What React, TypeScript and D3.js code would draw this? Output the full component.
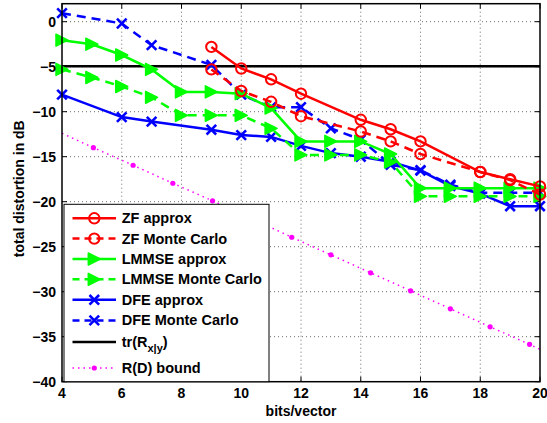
import React from 'react';
import * as d3 from 'd3';

// values
const zfX = [9, 10, 11, 12, 14, 15, 16, 18, 19, 20];
const zfApprox = [-2.8, -5.2, -6.4, -8.0, -10.9, -11.95, -13.3, -16.7, -17.5, -18.3];
const zfMC = [-5.3, -7.7, -8.9, -10.5, -12.2, -13.3, -14.7, -16.7, -17.6, -19.2];

const lmmseX = [4, 5, 6, 7, 8, 9, 10, 11, 12, 13, 14, 15, 16, 17, 18, 19, 20];
const lmmseApprox = [-2.05, -2.5, -3.7, -5.3, -7.8, -7.8, -8.0, -9.6, -13.3, -13.3, -13.3, -14.7, -18.5, -18.5, -18.5, -18.5, -18.5];
const lmmseMC = [-5.3, -6.2, -7.2, -8.4, -10.4, -10.4, -10.4, -11.85, -14.8, -14.8, -14.8, -15.6, -19.4, -19.4, -19.4, -19.4, -19.4];

const dfeX = [4, 6, 7, 9, 10, 11, 12, 13, 14, 15, 16, 17, 18, 19, 20];
const dfeApprox = [-8.1, -10.6, -11.1, -12.0, -12.6, -12.8, -13.8, -14.6, -15.0, -15.55, -16.55, -18.25, -19.1, -20.5, -20.5];
const dfeMC = [0.95, -0.2, -2.6, -4.8, -8.1, -9.5, -9.5, -11.85, -13.1, -15.9, -16.5, -18.1, -19.0, -19.0, -19.0];

// R(D) bound: line ends at the axes, markers in between
const rdX = [4, 5.05, 6.38, 7.71, 9.04, 10.37, 11.69, 13.0, 14.33, 15.67, 17.0, 18.33, 19.65, 20];
const rdY = [-12.4, -14.0, -15.95, -17.95, -19.9, -21.9, -23.95, -25.9, -27.9, -29.9, -31.9, -33.9, -35.85, -36.4];

const trValue = -4.95;

const xTicks = [4, 6, 8, 10, 12, 14, 16, 18, 20];
const yTicks = [0, -5, -10, -15, -20, -25, -30, -35, -40];

const W = 547;
const H = 423;
const left = 62;
const right = 540;
const top = 3.7;
const bottom = 381.7;

const x = d3.scaleLinear().domain([4, 20]).range([left, right]);
const y = d3.scaleLinear().domain([-40, 2]).range([bottom, top]);

const RED = '#ff0000';
const GREEN = '#00ff00';
const BLUE = '#0000ff';
const MAGENTA = '#ff00ff';
const DASH = '9,6';
const FONT = 'Liberation Sans, Arial, sans-serif';

type Marker = 'o' | '>' | 'x' | '.';

const MarkerShape = ({ type, cx, cy, color }: { type: Marker; cx: number; cy: number; color: string }) => {
  if (type === 'o') {
    return <circle cx={cx} cy={cy} r={5.2} fill="none" stroke={color} strokeWidth={2} />;
  }
  if (type === '>') {
    const s = 6;
    return (
      <path
        d={`M${cx + s},${cy} L${cx - s},${cy - s} L${cx - s},${cy + s} Z`}
        fill={color}
        stroke={color}
        strokeWidth={1.5}
        strokeLinejoin="round"
      />
    );
  }
  if (type === 'x') {
    const s = 4.8;
    return (
      <path
        d={`M${cx - s},${cy - s} L${cx + s},${cy + s} M${cx - s},${cy + s} L${cx + s},${cy - s}`}
        stroke={color}
        strokeWidth={2.6}
      />
    );
  }
  return <circle cx={cx} cy={cy} r={2.6} fill={color} />;
};

const line = d3
  .line<[number, number]>()
  .x((d) => x(d[0]))
  .y((d) => y(d[1]));

const Series = ({
  xs,
  ys,
  color,
  dash,
  marker,
  width = 2.5,
  skipEnds = false,
}: {
  xs: number[];
  ys: number[];
  color: string;
  dash?: string;
  marker: Marker;
  width?: number;
  skipEnds?: boolean;
}) => {
  const pts = xs.map((v, i) => [v, ys[i]] as [number, number]);
  return (
    <g>
      <path d={line(pts) || ''} fill="none" stroke={color} strokeWidth={width} strokeDasharray={dash} />
      {pts.map((p, i) =>
        skipEnds && (i === 0 || i === pts.length - 1) ? null : (
          <MarkerShape key={i} type={marker} cx={x(p[0])} cy={y(p[1])} color={color} />
        )
      )}
    </g>
  );
};

const legendItems: { label: React.ReactNode; color: string; dash?: string; marker?: Marker; width?: number }[] = [
  { label: 'ZF approx', color: RED, marker: 'o' },
  { label: 'ZF Monte Carlo', color: RED, dash: '7,5', marker: 'o' },
  { label: 'LMMSE approx', color: GREEN, marker: '>' },
  { label: 'LMMSE Monte Carlo', color: GREEN, dash: '7,5', marker: '>' },
  { label: 'DFE approx', color: BLUE, marker: 'x' },
  { label: 'DFE Monte Carlo', color: BLUE, dash: '7,5', marker: 'x' },
  {
    label: (
      <>
        tr(R<tspan fontSize={11} dy={5}>x|y</tspan>
        <tspan dy={-5}>)</tspan>
      </>
    ),
    color: '#000',
  },
  { label: 'R(D) bound', color: MAGENTA, dash: '1.5,4', marker: '.', width: 1.5 },
];
const legendRowY = [218.3, 238.6, 259, 279.3, 299.8, 320.4, 342, 368];

const App = () => {
  return (
    <svg
      width={W}
      height={H}
      style={{ position: 'absolute', left: 0, top: 0, background: '#fff' }}
      fontFamily={FONT}
      fontWeight="bold"
    >
      <rect x={0} y={0} width={W} height={H} fill="#fff" />
      {/* grid */}
      <g stroke="#444" strokeWidth={0.8} strokeDasharray="1,3">
        {xTicks.slice(1, -1).map((t) => (
          <line key={'gx' + t} x1={x(t)} x2={x(t)} y1={top} y2={bottom} />
        ))}
        {yTicks.slice(0, -1).map((t) => (
          <line key={'gy' + t} x1={left} x2={right} y1={y(t)} y2={y(t)} />
        ))}
      </g>
      {/* ticks */}
      <g stroke="#000" strokeWidth={1}>
        {xTicks.map((t) => (
          <g key={'tx' + t}>
            <line x1={x(t)} x2={x(t)} y1={bottom} y2={bottom - 5} />
            <line x1={x(t)} x2={x(t)} y1={top} y2={top + 5} />
          </g>
        ))}
        {yTicks.map((t) => (
          <g key={'ty' + t}>
            <line x1={left} x2={left + 5} y1={y(t)} y2={y(t)} />
            <line x1={right} x2={right - 5} y1={y(t)} y2={y(t)} />
          </g>
        ))}
      </g>

      {/* data */}
      <Series xs={rdX} ys={rdY} color={MAGENTA} dash="1.5,4" marker="." width={1.5} skipEnds />
      <line x1={left} x2={right} y1={y(trValue)} y2={y(trValue)} stroke="#000" strokeWidth={2.6} />
      <Series xs={dfeX} ys={dfeApprox} color={BLUE} marker="x" />
      <Series xs={dfeX} ys={dfeMC} color={BLUE} dash={DASH} marker="x" />
      <Series xs={lmmseX} ys={lmmseApprox} color={GREEN} marker=">" />
      <Series xs={lmmseX} ys={lmmseMC} color={GREEN} dash={DASH} marker=">" />
      <Series xs={zfX} ys={zfApprox} color={RED} marker="o" />
      <Series xs={zfX} ys={zfMC} color={RED} dash={DASH} marker="o" />

      {/* axes box */}
      <rect x={left} y={top} width={right - left} height={bottom - top} fill="none" stroke="#000" strokeWidth={1.5} />

      {/* tick labels */}
      <g fontSize={14} fill="#000">
        {xTicks.map((t) => (
          <text key={'lx' + t} x={x(t)} y={bottom + 16} textAnchor="middle">
            {t}
          </text>
        ))}
        {yTicks.map((t) => (
          <text key={'ly' + t} x={left - 6} y={y(t) + 5} textAnchor="end">
            {t < 0 ? '\u2212' + Math.abs(t) : t}
          </text>
        ))}
      </g>
      <text x={(left + right) / 2} y={bottom + 34} textAnchor="middle" fontSize={14}>
        bits/vector
      </text>
      <text
        transform={`translate(24, ${(top + bottom) / 2 - 4}) rotate(-90)`}
        textAnchor="middle"
        fontSize={14}
      >
        total distortion in dB
      </text>

      {/* legend */}
      <g>
        <rect x={64} y={204.3} width={205} height={bottom - 204.3} fill="#fff" stroke="#000" strokeWidth={1} />
        {legendItems.map((it, i) => {
          const ly = legendRowY[i];
          return (
            <g key={i}>
              <line
                x1={72.5}
                x2={116}
                y1={ly}
                y2={ly}
                stroke={it.color}
                strokeWidth={it.width || 2.5}
                strokeDasharray={it.dash}
              />
              {it.marker && <MarkerShape type={it.marker} cx={94.3} cy={ly} color={it.color} />}
              <text x={121.7} y={ly + 5} fontSize={14.5}>
                {it.label}
              </text>
            </g>
          );
        })}
      </g>
    </svg>
  );
};

export default App;
